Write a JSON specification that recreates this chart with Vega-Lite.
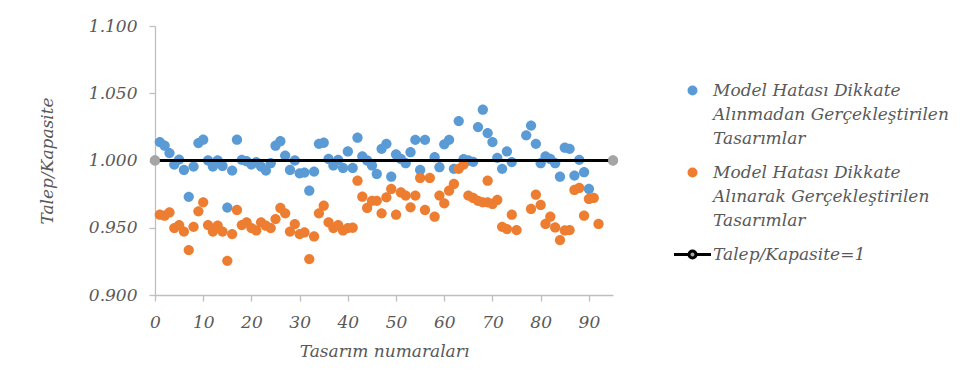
{
  "$schema": "https://vega.github.io/schema/vega-lite/v6.json",
  "autosize": "none",
  "width": 458,
  "height": 269,
  "padding": {"left": 155, "top": 26, "right": 359, "bottom": 91},
  "background": "white",
  "config": {
    "view": {"stroke": null},
    "axis": {
      "labelFont": "DejaVu Serif", "labelFontStyle": "italic", "labelFontSize": 17, "labelColor": "#595959",
      "titleFont": "DejaVu Serif", "titleFontStyle": "italic", "titleFontSize": 17, "titleColor": "#595959", "titleFontWeight": "normal",
      "domainColor": "#BFBFBF", "domainWidth": 1.3, "tickColor": "#BFBFBF", "tickWidth": 1.3, "tickSize": 6, "grid": false, "zindex": 0
    },
    "legend": {
      "labelFont": "DejaVu Serif", "labelFontStyle": "italic", "labelFontSize": 17, "labelColor": "#595959", "labelLimit": 400
    },
    "style": {"guide-label": {"lineHeight": 24}}
  },
  "datasets": {
    "pts": [
      {"n": 1, "v": 1.0137, "s": "A"}, {"n": 2, "v": 1.011, "s": "A"}, {"n": 3, "v": 1.0055, "s": "A"}, {"n": 4, "v": 0.997, "s": "A"},
      {"n": 5, "v": 1.0007, "s": "A"}, {"n": 6, "v": 0.993, "s": "A"}, {"n": 7, "v": 0.973, "s": "A"}, {"n": 8, "v": 0.9955, "s": "A"},
      {"n": 9, "v": 1.013, "s": "A"}, {"n": 10, "v": 1.0155, "s": "A"}, {"n": 11, "v": 1.0, "s": "A"}, {"n": 12, "v": 0.9955, "s": "A"},
      {"n": 13, "v": 1.0, "s": "A"}, {"n": 14, "v": 0.996, "s": "A"}, {"n": 15, "v": 0.965, "s": "A"}, {"n": 16, "v": 0.9925, "s": "A"},
      {"n": 17, "v": 1.0155, "s": "A"}, {"n": 18, "v": 1.0005, "s": "A"}, {"n": 19, "v": 0.9995, "s": "A"}, {"n": 20, "v": 0.997, "s": "A"},
      {"n": 21, "v": 0.9988, "s": "A"}, {"n": 22, "v": 0.9955, "s": "A"}, {"n": 23, "v": 0.9925, "s": "A"}, {"n": 24, "v": 0.998, "s": "A"},
      {"n": 25, "v": 1.011, "s": "A"}, {"n": 26, "v": 1.0144, "s": "A"}, {"n": 27, "v": 1.0037, "s": "A"}, {"n": 28, "v": 0.993, "s": "A"},
      {"n": 29, "v": 1.0, "s": "A"}, {"n": 30, "v": 0.9905, "s": "A"}, {"n": 31, "v": 0.991, "s": "A"}, {"n": 32, "v": 0.9776, "s": "A"},
      {"n": 33, "v": 0.9918, "s": "A"}, {"n": 34, "v": 1.0124, "s": "A"}, {"n": 35, "v": 1.0132, "s": "A"}, {"n": 36, "v": 1.0012, "s": "A"},
      {"n": 37, "v": 0.9963, "s": "A"}, {"n": 38, "v": 1.0005, "s": "A"}, {"n": 39, "v": 0.9945, "s": "A"}, {"n": 40, "v": 1.0067, "s": "A"},
      {"n": 41, "v": 0.9945, "s": "A"}, {"n": 42, "v": 1.017, "s": "A"}, {"n": 43, "v": 1.003, "s": "A"}, {"n": 44, "v": 1.0, "s": "A"},
      {"n": 45, "v": 0.9963, "s": "A"}, {"n": 46, "v": 0.99, "s": "A"}, {"n": 47, "v": 1.0087, "s": "A"}, {"n": 48, "v": 1.0124, "s": "A"},
      {"n": 49, "v": 0.988, "s": "A"}, {"n": 50, "v": 1.0045, "s": "A"}, {"n": 51, "v": 1.0012, "s": "A"}, {"n": 52, "v": 0.998, "s": "A"},
      {"n": 53, "v": 1.0062, "s": "A"}, {"n": 54, "v": 1.0154, "s": "A"}, {"n": 55, "v": 0.993, "s": "A"}, {"n": 56, "v": 1.0154, "s": "A"},
      {"n": 58, "v": 1.0025, "s": "A"}, {"n": 59, "v": 0.995, "s": "A"}, {"n": 60, "v": 1.012, "s": "A"}, {"n": 61, "v": 1.0154, "s": "A"},
      {"n": 62, "v": 0.9938, "s": "A"}, {"n": 63, "v": 1.0293, "s": "A"}, {"n": 64, "v": 1.001, "s": "A"}, {"n": 65, "v": 1.0, "s": "A"},
      {"n": 66, "v": 0.999, "s": "A"}, {"n": 67, "v": 1.0249, "s": "A"}, {"n": 68, "v": 1.0378, "s": "A"}, {"n": 69, "v": 1.0204, "s": "A"},
      {"n": 70, "v": 1.0137, "s": "A"}, {"n": 71, "v": 1.002, "s": "A"}, {"n": 72, "v": 0.9938, "s": "A"}, {"n": 73, "v": 1.0067, "s": "A"},
      {"n": 74, "v": 0.9988, "s": "A"}, {"n": 77, "v": 1.0187, "s": "A"}, {"n": 78, "v": 1.026, "s": "A"}, {"n": 79, "v": 1.0124, "s": "A"},
      {"n": 80, "v": 0.998, "s": "A"}, {"n": 81, "v": 1.003, "s": "A"}, {"n": 82, "v": 1.0012, "s": "A"}, {"n": 83, "v": 0.998, "s": "A"},
      {"n": 84, "v": 0.988, "s": "A"}, {"n": 85, "v": 1.0095, "s": "A"}, {"n": 86, "v": 1.0087, "s": "A"}, {"n": 87, "v": 0.9888, "s": "A"},
      {"n": 88, "v": 1.0005, "s": "A"}, {"n": 89, "v": 0.9913, "s": "A"}, {"n": 90, "v": 0.9789, "s": "A"},
      {"n": 1, "v": 0.9597, "s": "B"}, {"n": 2, "v": 0.959, "s": "B"}, {"n": 3, "v": 0.9614, "s": "B"}, {"n": 4, "v": 0.9498, "s": "B"},
      {"n": 5, "v": 0.952, "s": "B"}, {"n": 6, "v": 0.9472, "s": "B"}, {"n": 7, "v": 0.9334, "s": "B"}, {"n": 8, "v": 0.9507, "s": "B"},
      {"n": 9, "v": 0.9622, "s": "B"}, {"n": 10, "v": 0.9689, "s": "B"}, {"n": 11, "v": 0.952, "s": "B"}, {"n": 12, "v": 0.9472, "s": "B"},
      {"n": 13, "v": 0.9515, "s": "B"}, {"n": 14, "v": 0.9472, "s": "B"}, {"n": 15, "v": 0.9254, "s": "B"}, {"n": 16, "v": 0.9453, "s": "B"},
      {"n": 17, "v": 0.9632, "s": "B"}, {"n": 18, "v": 0.952, "s": "B"}, {"n": 19, "v": 0.954, "s": "B"}, {"n": 20, "v": 0.9498, "s": "B"},
      {"n": 21, "v": 0.948, "s": "B"}, {"n": 22, "v": 0.954, "s": "B"}, {"n": 23, "v": 0.9515, "s": "B"}, {"n": 24, "v": 0.9498, "s": "B"},
      {"n": 25, "v": 0.9565, "s": "B"}, {"n": 26, "v": 0.9647, "s": "B"}, {"n": 27, "v": 0.9607, "s": "B"}, {"n": 28, "v": 0.9472, "s": "B"},
      {"n": 29, "v": 0.9527, "s": "B"}, {"n": 30, "v": 0.9453, "s": "B"}, {"n": 31, "v": 0.9465, "s": "B"}, {"n": 32, "v": 0.9267, "s": "B"},
      {"n": 33, "v": 0.9435, "s": "B"}, {"n": 34, "v": 0.9607, "s": "B"}, {"n": 35, "v": 0.9664, "s": "B"}, {"n": 36, "v": 0.954, "s": "B"},
      {"n": 37, "v": 0.9498, "s": "B"}, {"n": 38, "v": 0.952, "s": "B"}, {"n": 39, "v": 0.948, "s": "B"}, {"n": 40, "v": 0.9498, "s": "B"},
      {"n": 41, "v": 0.95, "s": "B"}, {"n": 42, "v": 0.985, "s": "B"}, {"n": 43, "v": 0.9731, "s": "B"}, {"n": 44, "v": 0.9647, "s": "B"},
      {"n": 45, "v": 0.97, "s": "B"}, {"n": 46, "v": 0.97, "s": "B"}, {"n": 47, "v": 0.9607, "s": "B"}, {"n": 48, "v": 0.9726, "s": "B"},
      {"n": 49, "v": 0.9789, "s": "B"}, {"n": 50, "v": 0.9597, "s": "B"}, {"n": 51, "v": 0.9763, "s": "B"}, {"n": 52, "v": 0.9739, "s": "B"},
      {"n": 53, "v": 0.9652, "s": "B"}, {"n": 54, "v": 0.9739, "s": "B"}, {"n": 55, "v": 0.987, "s": "B"}, {"n": 56, "v": 0.9632, "s": "B"},
      {"n": 57, "v": 0.987, "s": "B"}, {"n": 58, "v": 0.9582, "s": "B"}, {"n": 59, "v": 0.9739, "s": "B"}, {"n": 60, "v": 0.9682, "s": "B"},
      {"n": 61, "v": 0.9776, "s": "B"}, {"n": 62, "v": 0.9826, "s": "B"}, {"n": 63, "v": 0.9938, "s": "B"}, {"n": 64, "v": 0.997, "s": "B"},
      {"n": 65, "v": 0.9739, "s": "B"}, {"n": 66, "v": 0.9722, "s": "B"}, {"n": 67, "v": 0.97, "s": "B"}, {"n": 68, "v": 0.9689, "s": "B"},
      {"n": 69, "v": 0.985, "s": "B"}, {"n": 69, "v": 0.9689, "s": "B"}, {"n": 70, "v": 0.9677, "s": "B"}, {"n": 71, "v": 0.9707, "s": "B"},
      {"n": 72, "v": 0.9507, "s": "B"}, {"n": 73, "v": 0.949, "s": "B"}, {"n": 74, "v": 0.9597, "s": "B"}, {"n": 75, "v": 0.9483, "s": "B"},
      {"n": 78, "v": 0.964, "s": "B"}, {"n": 79, "v": 0.9746, "s": "B"}, {"n": 80, "v": 0.967, "s": "B"}, {"n": 81, "v": 0.9528, "s": "B"},
      {"n": 82, "v": 0.9582, "s": "B"}, {"n": 83, "v": 0.9502, "s": "B"}, {"n": 84, "v": 0.9408, "s": "B"}, {"n": 85, "v": 0.948, "s": "B"},
      {"n": 86, "v": 0.9483, "s": "B"}, {"n": 87, "v": 0.9781, "s": "B"}, {"n": 88, "v": 0.9796, "s": "B"}, {"n": 89, "v": 0.959, "s": "B"},
      {"n": 90, "v": 0.9714, "s": "B"}, {"n": 91, "v": 0.9722, "s": "B"}, {"n": 92, "v": 0.9528, "s": "B"},
      {"n": 0, "v": 1.0, "s": "C"}, {"n": 95, "v": 1.0, "s": "C"}
    ],
    "names": [
      {"s": "A", "label": "Model Hatası Dikkate Alınmadan Gerçekleştirilen Tasarımlar"},
      {"s": "B", "label": "Model Hatası Dikkate Alınarak Gerçekleştirilen Tasarımlar"},
      {"s": "C", "label": "Talep/Kapasite=1"}
    ]
  },
  "data": {"name": "pts"},
  "transform": [
    {"lookup": "s", "from": {"data": {"name": "names"}, "key": "s", "fields": ["label"]}}
  ],
  "encoding": {
    "x": {
      "field": "n", "type": "quantitative",
      "scale": {"domain": [0, 95], "nice": false, "zero": false},
      "axis": {"values": [0, 10, 20, 30, 40, 50, 60, 70, 80, 90], "title": "Tasarım numaraları", "labelPadding": 13, "titlePadding": 13, "labelFlush": false}
    },
    "y": {
      "field": "v", "type": "quantitative",
      "scale": {"domain": [0.9, 1.1], "nice": false, "zero": false},
      "axis": {"values": [0.9, 0.95, 1.0, 1.05, 1.1], "format": ".3f", "title": "Talep/Kapasite", "labelPadding": 12, "titlePadding": 32}
    }
  },
  "layer": [
    {
      "mark": {"type": "point", "filled": true, "size": 215, "strokeWidth": 0, "opacity": 1},
      "encoding": {
        "fill": {
          "field": "label", "type": "nominal",
          "scale": {
            "domain": ["Model Hatası Dikkate Alınmadan Gerçekleştirilen Tasarımlar", "Model Hatası Dikkate Alınarak Gerçekleştirilen Tasarımlar", "Talep/Kapasite=1"],
            "range": ["#5B9BD5", "#ED7D31", "#A5A5A5"]
          },
          "legend": {
            "title": null, "orient": "none", "legendX": 529, "legendY": 56,
            "symbolSize": 100, "symbolStrokeWidth": 3, "labelOffset": 12, "rowPadding": 16,
            "labelExpr": "split(replace(replace(datum.label, ' Alın', '|Alın'), ' Tasarımlar', '|Tasarımlar'), '|')"
          }
        },
        "stroke": {
          "field": "label", "type": "nominal",
          "scale": {
            "domain": ["Model Hatası Dikkate Alınmadan Gerçekleştirilen Tasarımlar", "Model Hatası Dikkate Alınarak Gerçekleştirilen Tasarımlar", "Talep/Kapasite=1"],
            "range": ["#5B9BD5", "#ED7D31", "#000000"]
          }
        },
        "shape": {
          "field": "label", "type": "nominal",
          "scale": {
            "domain": ["Model Hatası Dikkate Alınmadan Gerçekleştirilen Tasarımlar", "Model Hatası Dikkate Alınarak Gerçekleştirilen Tasarımlar", "Talep/Kapasite=1"],
            "range": ["M0.7,0A0.7,0.7,0,1,1,-0.7,0A0.7,0.7,0,1,1,0.7,0Z", "M0.7,0A0.7,0.7,0,1,1,-0.7,0A0.7,0.7,0,1,1,0.7,0Z", "M-3.7,0H-0.7M0.7,0H3.7M0.7,0A0.7,0.7,0,1,1,-0.7,0A0.7,0.7,0,1,1,0.7,0Z"]
          }
        }
      }
    },
    {
      "transform": [{"filter": "datum.s === 'C'"}],
      "mark": {"type": "line", "color": "#000000", "strokeWidth": 3},
      "encoding": {}
    },
    {
      "transform": [{"filter": "datum.s === 'C'"}],
      "mark": {"type": "circle", "color": "#A5A5A5", "size": 100, "opacity": 1},
      "encoding": {}
    }
  ]
}
